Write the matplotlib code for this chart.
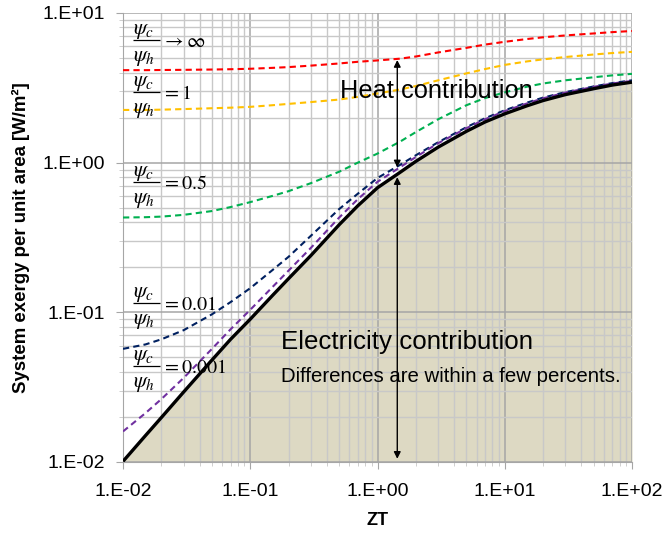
import numpy as np
import matplotlib
matplotlib.use('Agg')
import matplotlib.pyplot as plt
from matplotlib.ticker import FixedLocator, FixedFormatter, NullFormatter, LogLocator

plt.rcParams['font.family'] = 'Liberation Sans'
plt.rcParams['mathtext.fontset'] = 'stix'

# ZT values where the curves were read
zt = [0.01, 0.015, 0.02, 0.03, 0.05, 0.07, 0.1, 0.15, 0.2, 0.3, 0.5, 0.7,
      1, 1.5, 2, 3, 5, 7, 10, 15, 20, 30, 50, 70, 100]

# system exergy per unit area [W/m2]
elec_only = [0.0101, 0.0150, 0.0198, 0.0294, 0.0480, 0.066, 0.090, 0.130, 0.168,
             0.240, 0.385, 0.515, 0.68, 0.86, 1.02, 1.27, 1.62, 1.87, 2.12, 2.40,
             2.60, 2.85, 3.12, 3.30, 3.45]
ratio_inf = [4.15, 4.15, 4.16, 4.17, 4.19, 4.21, 4.24, 4.30, 4.35, 4.45, 4.60, 4.72,
             4.82, 4.95, 5.12, 5.45, 5.85, 6.15, 6.42, 6.70, 6.88, 7.08, 7.30, 7.45, 7.58]
ratio_1 = [2.25, 2.25, 2.26, 2.28, 2.31, 2.33, 2.36, 2.42, 2.47, 2.54, 2.64, 2.75,
           2.90, 3.08, 3.25, 3.55, 3.95, 4.22, 4.50, 4.75, 4.90, 5.08, 5.28, 5.40, 5.50]
ratio_05 = [0.430, 0.432, 0.436, 0.448, 0.475, 0.505, 0.545, 0.600, 0.645, 0.730, 0.870,
            1.00, 1.15, 1.38, 1.60, 1.95, 2.42, 2.70, 2.95, 3.22, 3.38, 3.55, 3.72, 3.83, 3.92]
ratio_001 = [0.057, 0.061, 0.066, 0.076, 0.097, 0.117, 0.145, 0.192, 0.235, 0.325,
             0.49, 0.62, 0.79, 0.965, 1.12, 1.37, 1.725, 1.98, 2.24, 2.52, 2.72, 2.96,
             3.23, 3.40, 3.55]
ratio_0001 = [0.0160, 0.0212, 0.0263, 0.0365, 0.0570, 0.077, 0.104, 0.148, 0.190,
              0.270, 0.430, 0.570, 0.745, 0.93, 1.09, 1.35, 1.70, 1.95, 2.21, 2.49,
              2.69, 2.94, 3.21, 3.38, 3.52]

xticks = [0.01, 0.1, 1, 10, 100]
xticklabels = ['1.E-02', '1.E-01', '1.E+00', '1.E+01', '1.E+02']
yticks = [0.01, 0.1, 1, 10]
yticklabels = ['1.E-02', '1.E-01', '1.E+00', '1.E+01']

ratio_texts = [r'$\rightarrow\infty$', r'$=1$', r'$=0.5$', r'$=0.01$', r'$=0.001$']
label_y = [6.6, 2.96, 0.74, 0.115, 0.0436]

arrow_x = 1.43
heat_arrow = [0.93, 4.85]
elec_arrow = [0.0105, 0.80]

fig = plt.figure(figsize=(6.69, 5.39), dpi=100)
ax = fig.add_axes([0.1839, 0.1429, 0.7608, 0.833])
ax.set_xscale('log')
ax.set_yscale('log')

ax.fill_between(zt, 0.01, elec_only, color='#DDD9C3', lw=0, zorder=1)

dash = (3, 2)
ax.plot(zt, ratio_inf, c='#FF0000', lw=1.5, dashes=dash, zorder=3)
ax.plot(zt, ratio_1, c='#FFC000', lw=1.5, dashes=dash, zorder=3)
ax.plot(zt, ratio_05, c='#00B050', lw=1.5, dashes=dash, zorder=3)
ax.plot(zt, ratio_001, c='#002060', lw=1.5, dashes=dash, zorder=3)
ax.plot(zt, ratio_0001, c='#7030A0', lw=1.5, dashes=dash, zorder=3)
ax.plot(zt, elec_only, c='black', lw=2.4, zorder=4, solid_capstyle='butt')

# psi_c / psi_h labels, drawn as a stacked fraction
ax.hlines(label_y, 0.01198, 0.01953, colors='black', lw=0.9, zorder=5)
for txt, yy in zip(ratio_texts, label_y):
    ax.annotate(r'$\psi_c$', (0.01198, yy), xytext=(0, 4.3), textcoords='offset points',
                fontsize=15.5, va='baseline', ha='left', zorder=5)
    ax.annotate(r'$\psi_h$', (0.01198, yy), xytext=(0, -14.8), textcoords='offset points',
                fontsize=15.5, va='baseline', ha='left', zorder=5)
    ax.annotate(txt, (0.0202, yy), xytext=(0, -4.8), textcoords='offset points',
                fontsize=14.5, va='baseline', ha='left', zorder=5)

ax.annotate('', xy=(arrow_x, heat_arrow[1]), xytext=(arrow_x, heat_arrow[0]),
            arrowprops=dict(arrowstyle='<|-|>', color='black', lw=1,
                            shrinkA=0, shrinkB=0, mutation_scale=10), zorder=6)
ax.annotate('', xy=(arrow_x, elec_arrow[0]), xytext=(arrow_x, elec_arrow[1]),
            arrowprops=dict(arrowstyle='<|-|>', color='black', lw=1,
                            shrinkA=0, shrinkB=0, mutation_scale=10), zorder=6)

ax.text(0.507, 2.7, 'Heat contribution', fontsize=18.3, va='baseline', ha='left', zorder=5)
ax.text(0.1747, 0.057, 'Electricity contribution', fontsize=18.6, va='baseline', ha='left',
        zorder=5)
ax.text(0.1747, 0.0343, 'Differences are within a few percents.', fontsize=14.7,
        va='baseline', ha='left', zorder=5)

ax.set_xlim(0.01, 100)
ax.set_ylim(0.01, 10)
ax.xaxis.set_major_locator(FixedLocator(xticks))
ax.xaxis.set_major_formatter(FixedFormatter(xticklabels))
ax.yaxis.set_major_locator(FixedLocator(yticks))
ax.yaxis.set_major_formatter(FixedFormatter(yticklabels))
for a in (ax.xaxis, ax.yaxis):
    a.set_minor_locator(LogLocator(base=10, subs=np.arange(2, 10), numticks=20))
    a.set_minor_formatter(NullFormatter())

ax.grid(which='major', color='#A6A6A6', lw=1.1)
ax.grid(which='minor', color='#C8C8C8', lw=1.0)
ax.tick_params(which='major', direction='out', length=5, color='#A6A6A6', labelsize=14)
ax.tick_params(which='minor', direction='out', length=3, color='#C8C8C8')
ax.tick_params(axis='x', pad=10)
ax.tick_params(axis='y', pad=8)
for s in ('top', 'right'):
    ax.spines[s].set_visible(False)
for s in ('left', 'bottom'):
    ax.spines[s].set_color('#A6A6A6')

ax.set_xlabel('ZT', fontsize=13, fontweight='bold', labelpad=9)
ax.set_ylabel('System exergy per unit area [W/m²]', fontsize=13.4, fontweight='bold',
              labelpad=9)

fig.savefig('out.png', dpi=100)
